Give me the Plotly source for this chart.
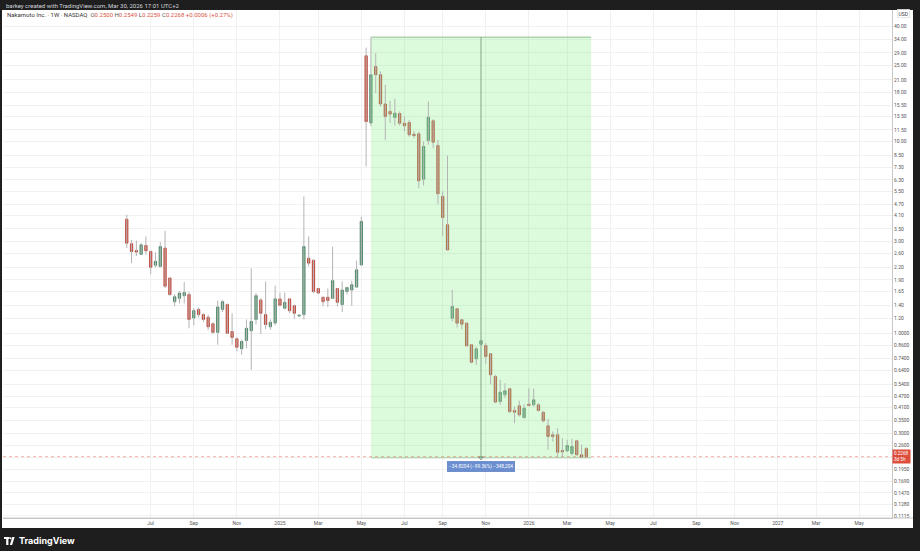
import math
import pandas as pd
import plotly.graph_objects as go

# ---------------- data ----------------
first_week = "2024-05-27"   # weekly bars, Monday dates

opens = [3.93, 2.93, 2.70, 2.58, 2.87, 2.67, 2.26, 2.23, 2.78, 1.94,
         1.46, 1.52, 1.57, 1.59, 1.20, 1.33, 1.25, 1.21, 1.12, 1.01,
         1.33, 1.41, 1.02, 0.935, 0.829, 0.916, 1.03, 1.18, 1.49, 1.25,
         1.08, 1.13, 1.51, 1.35, 1.51, 1.39, 1.23, 1.25, 2.46, 2.40,
         1.71, 1.54, 1.54, 1.52, 1.71, 1.41, 1.65, 1.68, 1.74, 2.27,
         28.0, 12.5, 24.6, 22.3, 15.7, 14.35, 13.35, 14.0, 12.46, 12.57,
         10.92, 10.97, 6.36, 10.13, 12.83, 9.54, 5.17, 3.68, 1.197, 1.341,
         1.175, 1.128, 0.870, 0.735, 0.876, 0.863, 0.781, 0.594, 0.440, 0.477,
         0.513, 0.395, 0.418, 0.3632, 0.426, 0.423, 0.423, 0.387, 0.3288, 0.295,
         0.295, 0.2443, 0.2435, 0.2357, 0.2746, 0.232, 0.2500]
highs = [4.15, 3.07, 3.04, 2.95, 3.20, 2.70, 2.64, 2.98, 3.42, 1.95,
         1.60, 1.66, 1.85, 1.64, 1.35, 1.36, 1.27, 1.25, 1.14, 1.48,
         1.49, 1.43, 1.27, 0.953, 0.924, 1.18, 2.18, 1.62, 1.52, 1.86,
         1.18, 1.77, 1.63, 1.63, 1.52, 1.41, 1.25, 5.17, 3.20, 2.42,
         1.72, 1.55, 1.71, 2.83, 1.72, 1.86, 1.75, 1.88, 2.39, 4.06,
         30.9, 35.04, 28.9, 23.2, 19.8, 16.3, 16.7, 14.35, 13.5, 12.98,
         11.36, 11.28, 10.0, 16.17, 13.08, 10.21, 5.49, 8.45, 1.684, 1.35,
         1.189, 1.141, 0.875, 0.852, 0.925, 0.887, 0.786, 0.607, 0.571, 0.548,
         0.516, 0.4145, 0.444, 0.426, 0.5165, 0.513, 0.431, 0.393, 0.3577, 0.307,
         0.3194, 0.2832, 0.2779, 0.2812, 0.2779, 0.2617, 0.2549]
lows = [2.78, 2.32, 2.53, 2.57, 2.57, 2.03, 2.20, 2.20, 1.72, 1.57,
        1.38, 1.43, 1.43, 1.06, 1.10, 1.21, 1.14, 1.04, 0.99, 0.87,
        1.29, 0.99, 0.87, 0.803, 0.771, 0.835, 0.644, 1.11, 0.99, 1.05,
        1.04, 1.10, 1.38, 1.33, 1.27, 1.19, 1.21, 1.18, 2.23, 1.62,
        1.60, 1.38, 1.37, 1.51, 1.38, 1.29, 1.59, 1.39, 1.72, 2.26,
        7.41, 12.0, 17.9, 15.2, 10.2, 12.5, 12.1, 12.1, 11.3, 10.6,
        10.41, 5.71, 5.90, 9.62, 9.23, 4.71, 3.20, 2.69, 1.151, 1.071,
        1.049, 0.852, 0.695, 0.684, 0.870, 0.692, 0.542, 0.431, 0.423, 0.458,
        0.3825, 0.339, 0.3676, 0.3577, 0.4145, 0.4145, 0.390, 0.343, 0.2464, 0.272,
        0.2246, 0.2246, 0.2394, 0.2301, 0.2301, 0.2236, 0.2259]
closes = [2.95, 2.67, 2.65, 2.89, 2.69, 2.21, 2.37, 2.83, 1.76, 1.59,
          1.55, 1.62, 1.63, 1.18, 1.31, 1.25, 1.18, 1.08, 1.01, 1.37,
          1.46, 1.00, 0.95, 0.845, 0.905, 1.06, 1.15, 1.57, 1.27, 1.11,
          1.14, 1.51, 1.40, 1.45, 1.31, 1.27, 1.24, 2.83, 2.32, 1.65,
          1.62, 1.46, 1.48, 1.88, 1.45, 1.68, 1.73, 1.79, 2.14, 3.83,
          12.7, 22.3, 22.3, 15.7, 13.5, 13.9, 14.06, 12.46, 12.08, 10.84,
          10.75, 6.24, 9.42, 13.39, 9.92, 5.34, 4.01, 2.72, 1.378, 1.128,
          1.114, 0.860, 0.706, 0.829, 0.913, 0.756, 0.607, 0.437, 0.492, 0.5006,
          0.390, 0.387, 0.375, 0.406, 0.4196, 0.449, 0.395, 0.349, 0.289, 0.289,
          0.2394, 0.2405, 0.2595, 0.2564, 0.232, 0.2262, 0.2268]

month_ticks = ["2024-07-01", "2024-09-02", "2024-11-04", "2025-01-06", "2025-03-03",
               "2025-05-05", "2025-07-07", "2025-09-01", "2025-11-03", "2026-01-05",
               "2026-03-02", "2026-05-04", "2026-07-06", "2026-09-07", "2026-11-02",
               "2027-01-04", "2027-03-01", "2027-05-03"]
month_labels = ["Jul", "Sep", "Nov", "2025", "Mar", "May", "Jul", "Sep", "Nov", "2026",
                "Mar", "May", "Jul", "Sep", "Nov", "2027", "Mar", "May"]

price_ticks = [40, 34, 29, 25, 21, 18, 15.5, 13.5, 11.5, 10, 8.5, 7.3, 6.3, 5.5, 4.7, 4.1,
               3.5, 3.0, 2.6, 2.2, 1.9, 1.65, 1.4, 1.2, 1.0, 0.86, 0.74, 0.64, 0.54, 0.47,
               0.41, 0.35, 0.30, 0.26, 0.225, 0.195, 0.169, 0.147, 0.128, 0.1115]
price_labels = ["40.00", "34.00", "29.00", "25.00", "21.00", "18.00", "15.50", "13.50",
                "11.50", "10.00", "8.50", "7.30", "6.30", "5.50", "4.70", "4.10", "3.50",
                "3.00", "2.60", "2.20", "1.90", "1.65", "1.40", "1.20", "1.0000", "0.8600",
                "0.7400", "0.6400", "0.5400", "0.4700", "0.4100", "0.3500", "0.3000",
                "0.2600", "", "0.1950", "0.1690", "0.1470", "0.1280", "0.1115"]

x_view = ["2023-11-28", "2027-06-20"]
y_view = [0.1086, 48.54]

measure_start = "2025-05-19"
measure_end = "2026-04-06"
measure_high = 35.0440
measure_change = -34.8204
measure_text = "\u221234.8204 (\u221299.36%) \u2212348,204"
last_price = 0.2268
countdown = "3d 5h"

# ---------------- styling ----------------
UP_FILL, UP_LINE = "#5f9f7b", "#3f7d5c"
DN_FILL, DN_LINE = "#dc5443", "#b53a2c"
WICK = "#b4b4b4"
GRID = "#f1f1f1"
FONT = "Roboto, Arial, sans-serif"

L, R, T, B = 3, 892, 10, 518
W, H = R - L, B - T


def px(x):
    return (x - L) / W


def py(y):
    return (B - y) / H


dates = pd.date_range(first_week, periods=len(opens), freq="7D")
measure_low = measure_high + measure_change
m0, m1 = pd.Timestamp(measure_start), pd.Timestamp(measure_end)
m_mid = m0 + (m1 - m0) / 2

fig = go.Figure()

# measurement range box
fig.add_trace(go.Scatter(
    x=[m0, m1, m1, m0, m0],
    y=[measure_high, measure_high, measure_low, measure_low, measure_high],
    mode="lines", fill="toself", fillcolor="rgba(115,239,115,0.25)",
    line=dict(width=0), hoverinfo="skip"))
fig.add_trace(go.Scatter(x=[m0, m1], y=[measure_high, measure_high], mode="lines",
                         line=dict(color="rgba(120,170,120,0.75)", width=1), hoverinfo="skip"))
fig.add_trace(go.Scatter(x=[m0, m1], y=[measure_low, measure_low], mode="lines",
                         line=dict(color="rgba(120,170,120,0.5)", width=1), hoverinfo="skip"))
fig.add_trace(go.Scatter(x=[m_mid, m_mid], y=[measure_high, measure_low], mode="lines",
                         line=dict(color="rgba(110,140,110,0.8)", width=1), hoverinfo="skip"))
fig.add_trace(go.Scatter(x=[m_mid], y=[measure_low], mode="markers",
                         marker=dict(symbol="triangle-down-open", size=4,
                                     color="rgba(110,140,110,0.9)", line=dict(width=1)),
                         hoverinfo="skip"))

# last price dotted line
fig.add_trace(go.Scatter(x=x_view, y=[last_price, last_price], mode="lines",
                         line=dict(color="rgba(226,80,62,0.45)", width=1, dash="dot"),
                         hoverinfo="skip"))

# wicks
wx, wy = [], []
for d, lo, hi in zip(dates, lows, highs):
    wx += [d, d, None]
    wy += [lo, hi, None]
fig.add_trace(go.Scatter(x=wx, y=wy, mode="lines", line=dict(color=WICK, width=1),
                         hoverinfo="skip"))

# bodies
body_hi = [max(o, c) for o, c in zip(opens, closes)]
body_lo = [min(o, c) for o, c in zip(opens, closes)]
fig.add_trace(go.Candlestick(
    x=dates, open=opens, high=body_hi, low=body_lo, close=closes,
    increasing=dict(fillcolor=UP_FILL, line=dict(color=UP_LINE, width=0.8)),
    decreasing=dict(fillcolor=DN_FILL, line=dict(color=DN_LINE, width=0.8)),
    whiskerwidth=0, hoverinfo="skip"))

shapes = [
    # top and bottom dark bars
    dict(type="rect", xref="paper", yref="paper", x0=-0.05, x1=1.1, y0=py(10), y1=py(-5),
         fillcolor="#1e1e1e", line=dict(width=0), layer="above"),
    dict(type="rect", xref="paper", yref="paper", x0=-0.05, x1=1.1, y0=py(560), y1=py(528),
         fillcolor="#1e1e1e", line=dict(width=0), layer="above"),
    # side strips
    dict(type="rect", xref="paper", yref="paper", x0=px(-5), x1=px(2), y0=py(560), y1=py(-5),
         fillcolor="#1e1e1e", line=dict(width=0), layer="above"),
    dict(type="rect", xref="paper", yref="paper", x0=px(913), x1=px(930), y0=py(560), y1=py(-5),
         fillcolor="#1e1e1e", line=dict(width=0), layer="above"),
    # time axis line extending under price scale
    dict(type="line", xref="paper", yref="paper", x0=0, x1=px(913), y0=0, y1=0,
         line=dict(color="#c8c8c8", width=1)),
    # TradingView logo
    dict(type="rect", xref="paper", yref="paper", x0=px(4), x1=px(9.5), y0=py(539), y1=py(537),
         fillcolor="white", line=dict(width=0)),
    dict(type="rect", xref="paper", yref="paper", x0=px(6.2), x1=px(8.4), y0=py(545), y1=py(537),
         fillcolor="white", line=dict(width=0)),
    dict(type="circle", xref="paper", yref="paper", x0=px(9.6), x1=px(11.6), y0=py(539.2), y1=py(537.2),
         fillcolor="white", line=dict(width=0)),
    dict(type="path", xref="paper", yref="paper",
         path=f"M {px(9.8)} {py(545)} L {px(12.3)} {py(537)} L {px(14.6)} {py(537)} L {px(12.1)} {py(545)} Z",
         fillcolor="white", line=dict(width=0)),
]

annotations = [
    dict(xref="paper", yref="paper", x=px(4), y=py(5), xanchor="left", yanchor="middle",
         text="barkey created with TradingView.com, Mar 30, 2026 17:01 UTC+2",
         showarrow=False, font=dict(family=FONT, size=6, color="#d1d4dc")),
    dict(xref="paper", yref="paper", x=px(5), y=py(15.5), xanchor="left", yanchor="middle",
         text=("<span style='color:#333'>Nakamoto Inc. \u00b7 1W \u00b7 NASDAQ</span>"
               "  O<span style='color:#d9533f'>0.2500</span>"
               " H<span style='color:#d9533f'>0.2549</span>"
               " L<span style='color:#d9533f'>0.2259</span>"
               " C<span style='color:#d9533f'>0.2268</span>"
               " <span style='color:#d9533f'>+0.0006 (+0.27%)</span>"),
         showarrow=False, font=dict(family=FONT, size=6, color="#555")),
    dict(xref="paper", yref="paper", x=px(903), y=py(14), xanchor="center", yanchor="middle",
         text="USD", showarrow=False, font=dict(family=FONT, size=5, color="#444"),
         bordercolor="#d6d6d6", borderwidth=0.6, borderpad=1, bgcolor="white"),
    dict(xref="paper", yref="y", x=1, y=math.log10(last_price), xanchor="left", yanchor="middle",
         text=f"{last_price:.4f}<br>{countdown}", showarrow=False, align="left",
         font=dict(family=FONT, size=4.6, color="white"), bgcolor="#dd4f3c", borderpad=1),
    dict(xref="x", yref="y", x=m_mid, y=math.log10(measure_low), xanchor="center", yanchor="top",
         yshift=-3, text=measure_text, showarrow=False,
         font=dict(family=FONT, size=4.8, color="white"), bgcolor="#6a8ed0",
         bordercolor="#5577bb", borderwidth=0.5, borderpad=1.5),
    dict(xref="paper", yref="paper", x=px(17), y=py(540.5), xanchor="left", yanchor="middle",
         text="<b>TradingView</b>", showarrow=False,
         font=dict(family="Inter, Roboto, sans-serif", size=9, color="white")),
]

fig.update_layout(
    width=920, height=551,
    margin=dict(l=L, r=920 - R, t=T, b=551 - B, pad=0),
    paper_bgcolor="white", plot_bgcolor="white", showlegend=False,
    font=dict(family=FONT, size=5, color="#555"),
    xaxis=dict(type="date", range=x_view, tickmode="array", tickvals=month_ticks,
               ticktext=month_labels, showgrid=True, gridcolor=GRID, gridwidth=1,
               zeroline=False, showline=True, linecolor="#c8c8c8", ticks="",
               rangeslider=dict(visible=False), tickfont=dict(size=5, color="#555")),
    yaxis=dict(type="log", side="right",
               range=[math.log10(y_view[0]), math.log10(y_view[1])],
               tickmode="array", tickvals=price_ticks, ticktext=price_labels,
               showgrid=True, gridcolor=GRID, gridwidth=1, zeroline=False,
               showline=True, linecolor="#c8c8c8", ticks="",
               tickfont=dict(size=5, color="#555")),
    shapes=shapes, annotations=annotations,
)

fig.write_html("out.html", config={"displayModeBar": False},
               post_script="document.body.style.margin='0';document.body.style.overflow='hidden';")
